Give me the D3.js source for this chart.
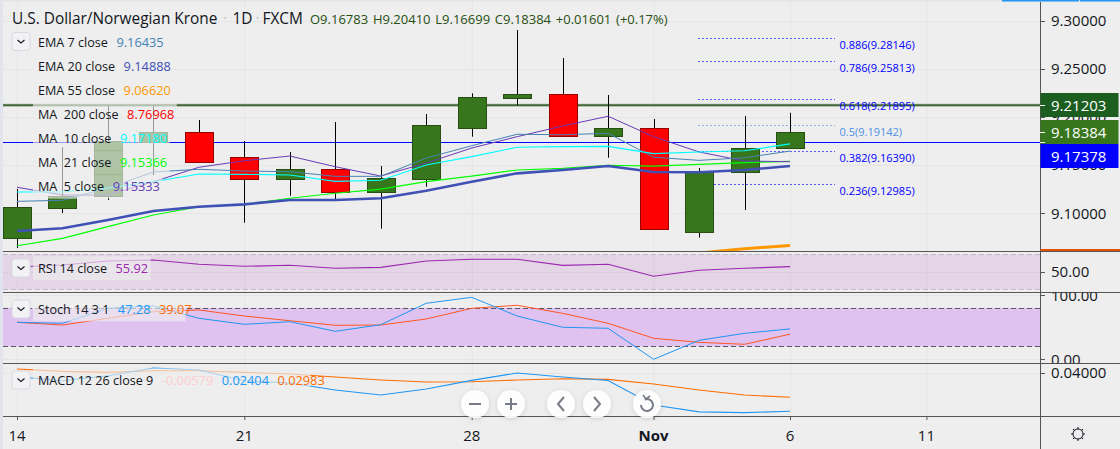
<!DOCTYPE html>
<html><head><meta charset="utf-8">
<script src="https://cdn.jsdelivr.net/npm/d3@7"></script>
<style>
html,body{margin:0;padding:0;background:#eeeeee;overflow:hidden}
svg{display:block}
text{font-family:"Open Sans",sans-serif;white-space:pre}
</style></head><body>
<svg id="c" width="1120" height="449"></svg>
<script>
const labels=["14","15","16","17","18","21","22","23","24","25","28","29","30","31","Nov","4","5","6"];
const opens =[9.07454,9.10571,9.11807,9.17376,9.18415,9.15818,9.13563,9.14540,9.12150,9.13563,9.18800,9.21979,9.22332,9.17968,9.18800,9.07994,9.14228,9.16783];
const highs =[9.12493,9.16857,9.21117,9.21117,9.19662,9.17480,9.16337,9.19454,9.14883,9.20285,9.22436,9.29013,9.26104,9.22260,9.19766,9.14675,9.20078,9.20410];
const lows  =[9.06363,9.10000,9.11350,9.13947,9.15194,9.08991,9.11797,9.11454,9.08368,9.12732,9.17927,9.21220,9.17968,9.15745,9.08306,9.07433,9.10311,9.16699];
const closes=[9.10623,9.11807,9.17480,9.18415,9.15329,9.13563,9.14540,9.12150,9.13636,9.19111,9.22020,9.22332,9.17968,9.18800,9.08306,9.14290,9.16722,9.18384];
const ma5  =[9.1267,9.1187,9.1187,9.1325,9.1475,9.1543,9.1592,9.1481,9.1384,9.1519,9.1675,9.1793,9.1904,9.2005,9.1793,9.1634,9.1540,9.15333];
const ema7 =[9.1121,9.1132,9.1260,9.1426,9.1454,9.1436,9.1429,9.1381,9.1381,9.1571,9.1699,9.1818,9.1813,9.1828,9.1579,9.1547,9.1574,9.16435];
const ma10 =[9.1218,9.1218,9.1260,9.1325,9.1405,9.1402,9.1395,9.1329,9.1340,9.1499,9.1585,9.1683,9.1689,9.1693,9.1616,9.1634,9.1647,9.17180];
const ma21 =[9.0660,9.0737,9.0858,9.0979,9.1065,9.1090,9.1153,9.1205,9.1249,9.1325,9.1384,9.1447,9.1464,9.1496,9.1488,9.1506,9.1523,9.15366];
const ema20=[9.0813,9.0841,9.0927,9.1021,9.1065,9.1090,9.1135,9.1135,9.1153,9.1232,9.1325,9.1412,9.1447,9.1488,9.1426,9.1423,9.1447,9.14888];
const ema55=[null,null,null,null,null,null,null,null,null,null,null,null,null,null,null,9.0585,9.0629,9.06620];
const rsi  =[55.5,57.8,62.3,63.5,58.6,56.3,57.4,54,55.1,62.3,64.3,64.3,57.4,58.6,44.9,51.7,54,55.92];
const stochK=[57.5,56,79.3,82.9,63.8,54.4,58.5,43.5,53.8,87.1,96.4,67.3,49.8,48.2,0,29.5,40.4,47.28];
const stochD=[57.5,53.3,63.8,74,76.7,67.3,60,52.9,53.3,62.7,79.3,84,71.5,56,32.7,26.4,23.3,39.07];
const macd =[.03834,.03669,.03876,.04195,.04112,.03669,.03574,.03284,.03077,.03325,.03681,.03988,.03822,.03681,.02663,.02380,.02350,.02404];
const signal=[.04153,.04054,.04012,.04083,.04083,.04012,.03946,.03822,.03698,.03615,.03627,.03698,.03752,.03723,.03532,.03284,.03077,.02983];
const fibLevels=["0.886","0.786","0.618","0.5","0.382","0.236"];
const fibValues=[9.28146,9.25813,9.21895,9.19142,9.16390,9.12985];
const priceTicks=[9.30,9.25,9.20,9.15,9.10];
const timeTicks=[["14",0],["21",5],["28",10],["Nov",14],["6",17],["11",20]];
const legendMain=[["EMA 7 close","9.16435","#4682b4"],["EMA 20 close","9.14888","#3f51b5"],["EMA 55 close","9.06620","#ff9800"],["MA  200 close","8.76968","#ff0000"],["MA  10 close","9.17180","#00ffff"],["MA  21 close","9.15366","#00ff00"],["MA  5 close","9.15333","#673ab7"]];

const W=1120,H=449,L=3,R=1040;
const svg=d3.select("#c");
const C={bg:"#eeeeee",grid:"#e5e5e5",sep:"#555555",up:"#38761d",upB:"#274e13",dn:"#ff0000",dnB:"#990000"};
const x=d3.scaleLinear().domain([0,17]).range([17,790]);
const y=d3.scaleLinear().domain([9.10,9.30]).range([213,20.5]);
const yR=d3.scaleLinear().domain([30,70]).range([289.3,254.3]);
const yS=d3.scaleLinear().domain([0,100]).range([359.3,295]);
const yM=d3.scaleLinear().domain([0.02983,0.04]).range([397.3,372.7]);
const defs=svg.append("defs");
[["cMain",1,250.5],["cRsi",251,41],["cSto",292,71],["cMac",363,53.5]].forEach(d=>
  defs.append("clipPath").attr("id",d[0]).append("rect").attr("x",L).attr("y",d[1]).attr("width",R-L).attr("height",d[2]));
const f=defs.append("filter").attr("id","sh").attr("x","-50%").attr("y","-50%").attr("width","200%").attr("height","200%");
f.append("feDropShadow").attr("dx",0).attr("dy",1).attr("stdDeviation",2).attr("flood-color","#000").attr("flood-opacity",.16);

svg.append("rect").attr("width",W).attr("height",H).attr("fill",C.bg);
svg.append("rect").attr("width",L).attr("height",H).attr("fill","#e1e3ef");
svg.append("rect").attr("width",W).attr("height",1.5).attr("fill","#e3e3e8");
svg.append("rect").attr("x",1002).attr("width",77).attr("height",1.5).attr("fill","#2196f3");
svg.append("rect").attr("x",1080).attr("width",40).attr("height",1.5).attr("fill","#2196f3");

// grid
const grid=svg.append("g").attr("stroke",C.grid).attr("fill","none");
timeTicks.forEach(t=>grid.append("line").attr("x1",x(t[1])+.5).attr("x2",x(t[1])+.5).attr("y1",2).attr("y2",416));
priceTicks.forEach(t=>grid.append("line").attr("x1",L).attr("x2",R).attr("y1",Math.round(y(t))+.5).attr("y2",Math.round(y(t))+.5));
[[yR,50],[yS,100],[yS,0],[yM,.04]].forEach(t=>grid.append("line").attr("x1",L).attr("x2",R).attr("y1",Math.round(t[0](t[1]))+.5).attr("y2",Math.round(t[0](t[1]))+.5));

// main pane
const main=svg.append("g").attr("clip-path","url(#cMain)");
main.append("line").attr("x1",L).attr("x2",R).attr("y1",y(9.21203)).attr("y2",y(9.21203)).attr("stroke","#9fb59f").attr("stroke-width",3);
main.append("line").attr("x1",L).attr("x2",R).attr("y1",y(9.21203)).attr("y2",y(9.21203)).attr("stroke","#274e13").attr("stroke-width",1.2);
main.append("line").attr("x1",L).attr("x2",R).attr("y1",Math.round(y(9.17378))+.5).attr("y2",Math.round(y(9.17378))+.5).attr("stroke","#0000ff");
fibValues.forEach((v,i)=>{
  const c=fibLevels[i]==="0.5"?"#8fb0e6":"#5a5aff";
  main.append("line").attr("x1",698).attr("x2",835).attr("y1",Math.round(y(v))+.5).attr("y2",Math.round(y(v))+.5)
    .attr("stroke",c).attr("stroke-dasharray","2,2");
  main.append("text").attr("x",839.5).attr("y",y(v)+11).attr("font-size",11)
    .attr("fill",fibLevels[i]==="0.5"?"#4f8fe6":"#0000ff").text(fibLevels[i]+"("+v.toFixed(5)+")");
});
const bw=28;
opens.forEach((o,i)=>{
  const c=closes[i],up=c>=o;
  const gy=Math.round(x(i));
  main.append("line").attr("x1",gy+.5).attr("x2",gy+.5).attr("y1",y(highs[i])).attr("y2",y(lows[i])).attr("stroke","#000");
  const t=Math.round(y(Math.max(o,c))),b=Math.round(y(Math.min(o,c)));
  main.append("rect").attr("x",gy-bw/2+.5).attr("y",t+.5).attr("width",bw).attr("height",Math.max(1,b-t))
    .attr("fill",up?C.up:C.dn).attr("stroke",up?C.upB:C.dnB);
});
const line=(s,a)=>d3.line().defined(d=>d!==null).x((d,i)=>x(i)).y(d=>s(d))(a);
[[ema55,"#ff9800",3],[ma21,"#00ff00",1.2],[ema20,"#3f51b5",2.6],[ma5,"#673ab7",1],[ema7,"#4682b4",1],[ma10,"#00ffff",1.2]].forEach(d=>
  main.append("path").attr("d",line(y,d[0])).attr("fill","none").attr("stroke",d[1]).attr("stroke-width",d[2]));

// RSI
const pr=svg.append("g").attr("clip-path","url(#cRsi)");
pr.append("rect").attr("x",L).attr("width",R-L).attr("y",yR(70)).attr("height",yR(30)-yR(70)).attr("fill","#9c27b0").attr("opacity",.13);
[70,30].forEach(v=>pr.append("line").attr("x1",L).attr("x2",R).attr("y1",Math.round(yR(v))+.5).attr("y2",Math.round(yR(v))+.5).attr("stroke","#c2bcc6").attr("stroke-dasharray","5,3"));
pr.append("path").attr("d",line(yR,rsi)).attr("fill","none").attr("stroke","#9c27b0").attr("stroke-width",1.1);
// Stoch
const ps=svg.append("g").attr("clip-path","url(#cSto)");
ps.append("rect").attr("x",L).attr("width",R-L).attr("y",yS(80)).attr("height",yS(20)-yS(80)).attr("fill","#dfc2f0");
[80,20].forEach(v=>ps.append("line").attr("x1",L).attr("x2",R).attr("y1",Math.round(yS(v))+.5).attr("y2",Math.round(yS(v))+.5).attr("stroke","#5d5666").attr("stroke-dasharray","5,3"));
ps.append("path").attr("d",line(yS,stochD)).attr("fill","none").attr("stroke","#ff5722").attr("stroke-width",1);
ps.append("path").attr("d",line(yS,stochK)).attr("fill","none").attr("stroke","#2196f3").attr("stroke-width",1);
// MACD
const pm=svg.append("g").attr("clip-path","url(#cMac)");
pm.append("path").attr("d",line(yM,signal)).attr("fill","none").attr("stroke","#ff6d00").attr("stroke-width",1.1);
pm.append("path").attr("d",line(yM,macd)).attr("fill","none").attr("stroke","#2196f3").attr("stroke-width",1.1);

// separators
[251,292,363,416].forEach(v=>svg.append("line").attr("x1",L).attr("x2",W).attr("y1",v+.5).attr("y2",v+.5).attr("stroke",C.sep));
svg.append("line").attr("x1",R+.5).attr("x2",R+.5).attr("y1",2).attr("y2",H).attr("stroke",C.sep);

// price axis
const ax=svg.append("g").attr("font-size",15).attr("fill","#131722");
const tick=(yy,t)=>{ax.append("line").attr("x1",R).attr("x2",R+5).attr("y1",Math.round(yy)+.5).attr("y2",Math.round(yy)+.5).attr("stroke",C.sep);
  ax.append("text").attr("x",1051).attr("y",yy+5.5).text(t);};
priceTicks.forEach(t=>tick(y(t),t.toFixed(5)));
const clipAx=[["cA1",251,41],["cA2",292,71],["cA3",363,53]];
clipAx.forEach(d=>defs.append("clipPath").attr("id",d[0]).append("rect").attr("x",R).attr("y",d[1]+.5).attr("width",80).attr("height",d[2]));
const subTick=(s,v,t,cl)=>{const g=ax.append("g").attr("clip-path","url(#"+cl+")");
  g.append("line").attr("x1",R).attr("x2",R+5).attr("y1",Math.round(s(v))+.5).attr("y2",Math.round(s(v))+.5).attr("stroke",C.sep);
  g.append("text").attr("x",1051).attr("y",s(v)+5.5).text(t);};
subTick(yR,50,"50.00","cA1");
subTick(yS,100,"100.00","cA2");
subTick(yS,0,"0.00","cA2");
subTick(yM,.04,"0.04000","cA3");
svg.append("rect").attr("x",R+.5).attr("y",249).attr("width",W-R).attr("height",2).attr("fill","#e65100");
[[9.21203,"#1b5e20",93,24],[9.18384,"#38761d",120,24],[9.17378,"#0000ff",144,24]].forEach(d=>{
  svg.append("rect").attr("x",R+.5).attr("y",d[2]).attr("width",78).attr("height",d[3]).attr("fill",d[1]);
  svg.append("line").attr("x1",R).attr("x2",R+5).attr("y1",Math.round(y(d[0]))+.5).attr("y2",Math.round(y(d[0]))+.5).attr("stroke","#fff");
  svg.append("text").attr("x",1051).attr("y",d[2]+17.5).attr("font-size",15).attr("fill","#fff").text(d[0].toFixed(5));
});

// time axis
timeTicks.forEach(t=>{
  svg.append("line").attr("x1",x(t[1])+.5).attr("x2",x(t[1])+.5).attr("y1",416).attr("y2",420).attr("stroke",C.sep);
  svg.append("text").attr("x",x(t[1])).attr("y",441).attr("text-anchor","middle").attr("font-size",15)
    .attr("font-weight",t[0]==="Nov"?700:400).attr("fill","#131722").text(t[0]);
});

// legends
const leg=svg.append("g");
function row(cy,name,vals){
  const g=leg.append("g");
  const bg=g.append("rect").attr("x",33).attr("y",cy-12).attr("height",24).attr("fill",C.bg).attr("opacity",.65);
  const t=g.append("text").attr("x",38).attr("y",cy+4.5).attr("font-size",12.6).attr("fill","#131722");
  t.append("tspan").text(name);
  vals.forEach(v=>t.append("tspan").attr("dx",8.5).attr("font-size",12.8).attr("fill",v[1]).text(v[0]));
  bg.attr("width",t.node().getComputedTextLength()+45-33+4);
}
legendMain.forEach((d,i)=>row(42.7+24*i,d[0],[[d[1],d[2]]]));
row(268.3,"RSI 14 close",[["55.92","#9c27b0"]]);
row(309.3,"Stoch 14 3 1",[["47.28","#2196f3"],["39.07","#ff6d00"]]);
row(380.3,"MACD 12 26 close 9",[["-0.00579","#ffcdd2"],["0.02404","#2196f3"],["0.02983","#ff6d00"]]);
const btn=cy=>{svg.append("rect").attr("x",12).attr("y",cy-9).attr("width",18).attr("height",18).attr("rx",3).attr("fill","#f2f2f4").attr("stroke","#d8dae3");
  svg.append("path").attr("d",d3.line()([[17.5,cy-1.5],[21,cy+1.5],[24.5,cy-1.5]])).attr("fill","none").attr("stroke","#131722").attr("stroke-width",1.1);};
[41.5,268,309,380].forEach(btn);

// title
const title=svg.append("text").attr("x",12).attr("y",24).attr("font-size",15.4).attr("fill","#131722");
title.append("tspan").text("U.S. Dollar/Norwegian Krone");
title.append("tspan").attr("dx",5.5).attr("fill","#b8c4cc").text("·");
title.append("tspan").attr("dx",5.5).text("1D");
title.append("tspan").attr("dx",3).attr("fill","#b8c4cc").text("·");
title.append("tspan").attr("dx",3).text("FXCM");
const ohlc=svg.append("text").attr("x",310).attr("y",24).attr("font-size",13).attr("word-spacing",1.4).attr("fill","#274e13");
ohlc.text("O9.16783 H9.20410 L9.16699 C9.18384 +0.01601 (+0.17%)");

// zoom controls
const ctl=[475,511,561,597,647];
ctl.forEach(cx=>svg.append("circle").attr("cx",cx).attr("cy",404).attr("r",14).attr("fill","#fff").attr("fill-opacity",.92).attr("filter","url(#sh)"));
const ic=svg.append("g").attr("fill","none").attr("stroke","#787b86").attr("stroke-width",2);
ic.append("path").attr("d","M469 404H481");
ic.append("path").attr("d","M505 404H517M511 398V410");
ic.append("path").attr("d","M564 397L558 404L564 411");
ic.append("path").attr("d","M594 397L600 404L594 411");
ic.append("path").attr("d",d3.arc()({innerRadius:6,outerRadius:6,startAngle:-0.4,endAngle:4.7})).attr("transform","translate(647,405)");
ic.append("path").attr("d","M643 395L646 399L650 396").attr("stroke-width",1.6);
// gear
const gear=svg.append("g").attr("transform","translate(1078,434)").attr("fill","none").attr("stroke","#131722");
gear.append("circle").attr("r",5);
d3.range(8).forEach(i=>gear.append("line").attr("y1",-5).attr("y2",-7).attr("transform","rotate("+i*45+")"));
</script></body></html>
